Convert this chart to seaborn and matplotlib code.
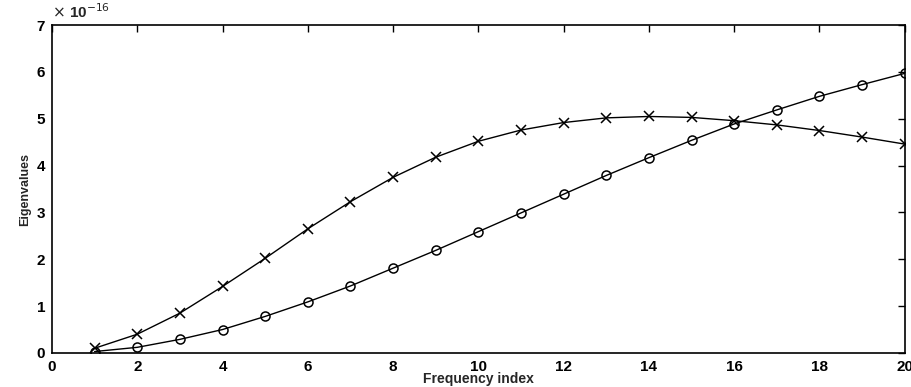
import numpy as np
import pandas as pd
import matplotlib
matplotlib.use("Agg")
import matplotlib.pyplot as plt
import matplotlib.ticker as mticker
import seaborn as sns

freq_index = list(range(1, 21))
cross_vals = [0.10, 0.40, 0.85, 1.42, 2.02, 2.65, 3.23, 3.75, 4.18, 4.52,
              4.76, 4.92, 5.02, 5.05, 5.03, 4.96, 4.87, 4.75, 4.61, 4.46]
circle_vals = [0.03, 0.12, 0.29, 0.50, 0.78, 1.09, 1.43, 1.81, 2.19, 2.59,
               2.99, 3.39, 3.79, 4.17, 4.54, 4.89, 5.19, 5.48, 5.73, 5.97]
scale = 1e-16
x_ticks = list(range(0, 21, 2))
y_ticks = list(range(0, 8))

sns.set_theme(style="white")
plt.rcParams['font.family'] = ['Liberation Sans', 'DejaVu Sans']

df = pd.DataFrame({
    "x": freq_index * 2,
    "y": [v * scale for v in cross_vals] + [v * scale for v in circle_vals],
    "series": ["cross"] * 20 + ["circle"] * 20,
})

fig = plt.figure(figsize=(9.12, 3.87), dpi=100)
ax = fig.add_axes([0.057, 0.088, 0.935, 0.847])

sns.lineplot(data=df[df.series == "cross"], x="x", y="y", ax=ax, color="black",
             marker="x", markersize=7, markeredgecolor="black",
             markeredgewidth=1.1, linewidth=1.0, legend=False)
sns.lineplot(data=df[df.series == "circle"], x="x", y="y", ax=ax, color="black",
             marker="o", markersize=6.5, markerfacecolor="none",
             markeredgecolor="black", markeredgewidth=1.1, linewidth=1.0,
             legend=False)

ax.set_xlim(0, 20)
ax.set_ylim(0, 7 * scale)
ax.set_xticks(x_ticks)
ax.set_yticks([t * scale for t in y_ticks])
ax.yaxis.set_major_formatter(mticker.FuncFormatter(lambda v, p: f"{v/scale:.0f}"))
ax.set_xticklabels([str(t) for t in x_ticks])

for s in ax.spines.values():
    s.set_visible(True)
    s.set_color("black")
    s.set_linewidth(1.2)
ax.tick_params(direction="in", length=5, width=1, colors="black",
               top=True, right=True, labelsize=11, pad=5)
for lab in ax.get_xticklabels() + ax.get_yticklabels():
    lab.set_fontweight("bold")

ax.set_xlabel("Frequency index", fontsize=10, fontweight="bold", labelpad=-1)
ax.set_ylabel("Eigenvalues", fontsize=9, fontweight="bold", labelpad=4)
ax.text(0.0, 1.012, r"$\times$ 10$^{-16}$", transform=ax.transAxes,
        fontsize=11, fontweight="bold", ha="left", va="bottom")

fig.savefig("out.png", dpi=100)
